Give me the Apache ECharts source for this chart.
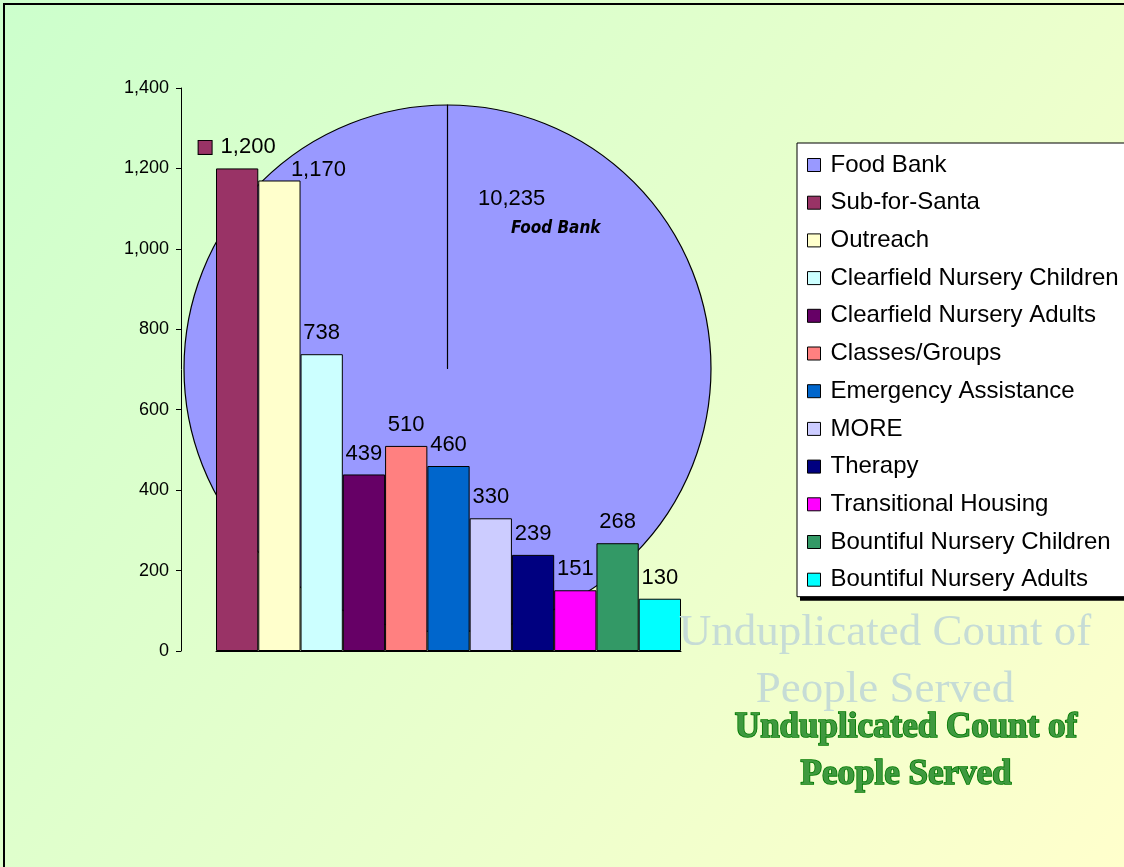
<!DOCTYPE html>
<html>
<head>
<meta charset="utf-8">
<script src="https://cdn.jsdelivr.net/npm/echarts@6/dist/echarts.min.js"></script>
<style>
html,body{margin:0;padding:0;background:#fff;}
#chart{position:absolute;left:0;top:0;width:1124px;height:867px;}
</style>
</head>
<body>
<div id="chart"></div>
<script>
// ---- data ----
const pieName = 'Food Bank';
const pieValue = 10235;
const pieColor = '#9999FF';

const barNames = ['Sub-for-Santa','Outreach','Clearfield Nursery Children','Clearfield Nursery Adults','Classes/Groups','Emergency Assistance','MORE','Therapy','Transitional Housing','Bountiful Nursery Children','Bountiful Nursery Adults'];
const barValues = [1200, 1170, 738, 439, 510, 460, 330, 239, 151, 268, 130];
const barColors = ['#993366','#FFFFCC','#CCFFFF','#660066','#FF8080','#0066CC','#CCCCFF','#000080','#FF00FF','#339966','#00FFFF'];

const yTicks = [0, 200, 400, 600, 800, 1000, 1200, 1400];
const titleText = 'Unduplicated Count of\nPeople Served';

// ---- chart ----
const fmt = v => Number(v).toLocaleString('en-US');
const sans = "'Liberation Sans', Arial, sans-serif";
const serif = "'Liberation Serif', 'Times New Roman', serif";
const narrow = "'Liberation Sans Narrow', 'Arial Narrow', 'DejaVu Sans Condensed', sans-serif";

const chart = echarts.init(document.getElementById('chart'), null, {renderer: 'canvas'});

const series = [];
series.push({
  type: 'pie',
  z: 1,
  center: [447.5, 368.5],
  radius: 263.5,
  startAngle: 90,
  clockwise: true,
  silent: true,
  data: [
    {name: pieName, value: pieValue, itemStyle: {color: pieColor}},
    {name: 'edge', value: 0, itemStyle: {color: pieColor}, label: {show: false}, labelLine: {show: false}}
  ],
  itemStyle: {borderColor: '#000', borderWidth: 1.2},
  label: {
    show: true,
    position: 'inside',
    formatter: p => '{v|' + fmt(p.value) + '}\n{n|' + p.name + '}',
    rich: {
      v: {fontSize: 22, fontFamily: sans, color: '#000', lineHeight: 30},
      n: {fontSize: 17, fontFamily: narrow, fontWeight: 'bold', fontStyle: 'italic', color: '#000', lineHeight: 30, padding: [0, 0, 0, 33]}
    }
  },
  labelLine: {show: false},
  labelLayout: {x: 478, y: 214, align: 'left', verticalAlign: 'middle'},
  emphasis: {disabled: true}
});

barNames.forEach((name, i) => {
  const label = {
    show: true,
    position: 'top',
    distance: 10,
    fontSize: 22,
    fontFamily: sans,
    color: '#000',
    formatter: p => fmt(p.value)
  };
  if (i === 0) {
    label.formatter = p => '{k|}{v|' + fmt(p.value) + '}';
    label.rich = {
      k: {width: 13, height: 13, backgroundColor: barColors[i], borderColor: '#000', borderWidth: 1},
      v: {fontSize: 22, fontFamily: sans, color: '#000', padding: [0, 0, 0, 9]}
    };
  }
  if (i === 1) {
    label.offset = [39, 10];
  }
  series.push({
    type: 'bar',
    name: name,
    z: 2,
    data: [barValues[i]],
    barGap: '0%',
    barCategoryGap: '0%',
    itemStyle: {color: barColors[i], borderColor: '#000', borderWidth: 1},
    label: label,
    emphasis: {disabled: true},
    silent: true
  });
});

const legendBase = {
  orient: 'vertical',
  padding: [10, 40, 5, 10],
  itemWidth: 13, itemHeight: 13, itemGap: 13.7,
  icon: 'rect',
  selectedMode: false,
  data: [pieName].concat(barNames)
};

const option = {
  animation: false,
  backgroundColor: new echarts.graphic.LinearGradient(0, 0, 1, 1, [
    {offset: 0, color: '#CCFFCC'},
    {offset: 1, color: '#FFFFCC'}
  ]),
  title: [
    {
      text: titleText,
      left: 885, top: 604.5, padding: 0,
      textAlign: 'center',
      textStyle: {fontFamily: serif, fontSize: 45, fontWeight: 'normal', lineHeight: 57, color: '#C6DCD6'}
    },
    {
      text: titleText,
      left: 906, top: 704.5, padding: 0,
      textAlign: 'center',
      textStyle: {fontFamily: serif, fontSize: 35, fontWeight: 'bold', lineHeight: 47, color: '#3F993F', textBorderColor: '#007A00', textBorderWidth: 1.6}
    }
  ],
  legend: [
    Object.assign({}, legendBase, {
      // shadow box
      left: 800, top: 147, z: 3,
      backgroundColor: '#000', borderWidth: 0,
      itemStyle: {opacity: 0},
      textStyle: {fontSize: 24, fontFamily: sans, color: 'rgba(0,0,0,0)', lineHeight: 24, padding: [0, 0, 0, 5]}
    }),
    Object.assign({}, legendBase, {
      left: 797, top: 143, z: 4,
      backgroundColor: '#FFFFFF',
      borderColor: '#000', borderWidth: 1,
      itemStyle: {borderColor: '#000', borderWidth: 1},
      textStyle: {fontSize: 24, fontFamily: sans, color: '#000', lineHeight: 24, padding: [0, 0, 0, 5]}
    })
  ],
  grid: {left: 216, right: 443, top: 88, bottom: 216, containLabel: false},
  xAxis: {
    type: 'category',
    data: [''],
    axisLine: {show: true, lineStyle: {color: '#000', width: 1}},
    axisTick: {show: false},
    axisLabel: {show: false},
    splitLine: {show: false}
  },
  yAxis: {
    type: 'value',
    min: yTicks[0], max: yTicks[yTicks.length - 1], interval: yTicks[1] - yTicks[0],
    offset: 35,
    axisLine: {show: true, lineStyle: {color: '#000', width: 1}},
    axisTick: {show: true, length: 5, lineStyle: {color: '#000'}},
    axisLabel: {fontSize: 18, fontFamily: sans, color: '#000', margin: 12, formatter: v => fmt(v)},
    splitLine: {show: false}
  },
  graphic: [{
    type: 'rect', silent: true, z: 100,
    shape: {x: 4, y: 4, width: 1300, height: 1000},
    style: {fill: 'none', stroke: '#000', lineWidth: 2}
  }],
  series: series
};
chart.setOption(option);
</script>
</body>
</html>
